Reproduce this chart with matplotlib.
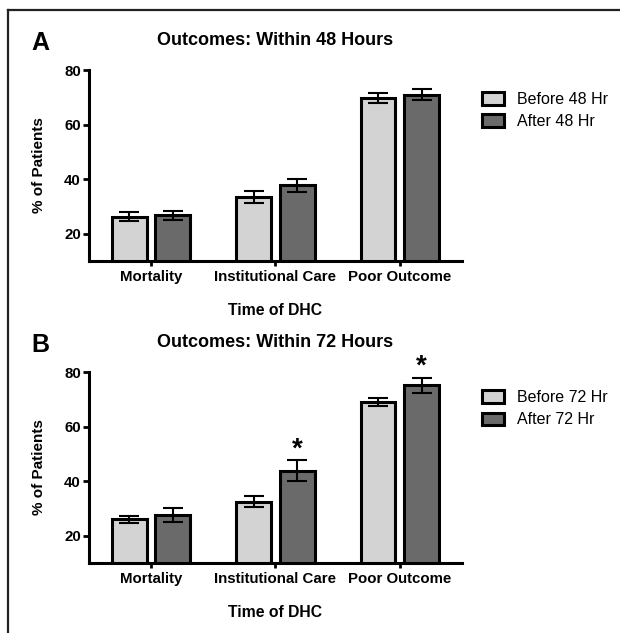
import matplotlib.pyplot as plt
import numpy as np
from matplotlib.patches import Patch
from matplotlib.lines import Line2D

plt.rcParams['font.family'] = ['Liberation Sans', 'DejaVu Sans']

categories = ['Mortality', 'Institutional Care', 'Poor Outcome']

# panel A: within 48 hours
before_48 = [26.2, 33.3, 69.8]
before_48_err = [1.7, 2.2, 1.9]
after_48 = [26.7, 37.7, 71.0]
after_48_err = [1.8, 2.5, 2.1]

# panel B: within 72 hours
before_72 = [26.1, 32.4, 68.9]
before_72_err = [1.3, 2.0, 1.5]
after_72 = [27.6, 43.9, 75.1]
after_72_err = [2.6, 3.7, 2.7]
after_72_sig = [False, True, True]

yticks = [20, 40, 60, 80]

light = '#d3d3d3'
dark = '#6a6a6a'


def draw_panel(ax, letter, title, before, before_err, after, after_err,
               legend_labels, legend_top, sig=None):
    x = np.arange(len(categories))
    w = 0.28
    off = 0.175
    ax.bar(x - off, before, w, color=light, edgecolor='black', linewidth=2.2, zorder=2)
    ax.bar(x + off, after, w, color=dark, edgecolor='black', linewidth=2.2, zorder=2)
    ax.errorbar(x - off, before, yerr=before_err, fmt='none', ecolor='black',
                elinewidth=1.5, capsize=7, capthick=1.5, zorder=3)
    ax.errorbar(x + off, after, yerr=after_err, fmt='none', ecolor='black',
                elinewidth=1.5, capsize=7, capthick=1.5, zorder=3)
    if sig is not None:
        for i in range(len(categories)):
            if sig[i]:
                ax.text(x[i] + off, after[i] + after_err[i] + 4.0, '*', ha='center',
                        va='center', fontsize=20, fontweight='bold', clip_on=False)

    ax.set_xlim(-0.5, 2.5)
    ax.set_ylim(10, 80)
    ax.set_yticks(yticks)
    ax.set_xticks(x)
    ax.set_xticklabels(categories)
    for s in ['top', 'right']:
        ax.spines[s].set_visible(False)
    for s in ['left', 'bottom']:
        ax.spines[s].set_linewidth(2.2)
    ax.tick_params(axis='y', length=4.3, width=2, pad=1.5, labelsize=10.8)
    ax.tick_params(axis='x', length=3.8, width=2, pad=2.6, labelsize=10.8)
    for lab in ax.get_xticklabels() + ax.get_yticklabels():
        lab.set_fontweight('bold')

    ax.set_ylabel('% of Patients', fontsize=11, fontweight='bold', labelpad=13)
    ax.set_xlabel('Time of DHC', fontsize=11.3, fontweight='bold', labelpad=14)
    ax.set_title(title, fontsize=13, fontweight='bold', pad=18)
    ax.text(-0.155, 1.14, letter, transform=ax.transAxes, fontsize=18,
            fontweight='bold', ha='left', va='center')

    handles = [Patch(facecolor=light, edgecolor='black', linewidth=2.2),
               Patch(facecolor=dark, edgecolor='black', linewidth=2.2)]
    ax.legend(handles, legend_labels, loc='upper left', bbox_to_anchor=(1.054, legend_top),
              frameon=False, fontsize=11.5, borderpad=0, borderaxespad=0,
              handlelength=1.4, handleheight=0.82, handletextpad=0.8, labelspacing=0.45)


fig = plt.figure(figsize=(6.2, 6.33), dpi=100)
ax_a = fig.add_axes([0.1435, 0.5877, 0.6016, 0.3017])
ax_b = fig.add_axes([0.1435, 0.1106, 0.6016, 0.3017])

draw_panel(ax_a, 'A', 'Outcomes: Within 48 Hours', before_48, before_48_err,
           after_48, after_48_err, ['Before 48 Hr', 'After 48 Hr'], 0.885)
draw_panel(ax_b, 'B', 'Outcomes: Within 72 Hours', before_72, before_72_err,
           after_72, after_72_err, ['Before 72 Hr', 'After 72 Hr'], 0.905, after_72_sig)

# frame around the figure (top and left edges only are visible)
fig.add_artist(Line2D([8 / 620, 1], [1 - 10 / 633, 1 - 10 / 633], color='#222222', lw=1.6,
                      transform=fig.transFigure))
fig.add_artist(Line2D([8 / 620, 8 / 620], [0, 1 - 10 / 633], color='#222222', lw=1.6,
                      transform=fig.transFigure))

fig.savefig('out.png', dpi=100)
